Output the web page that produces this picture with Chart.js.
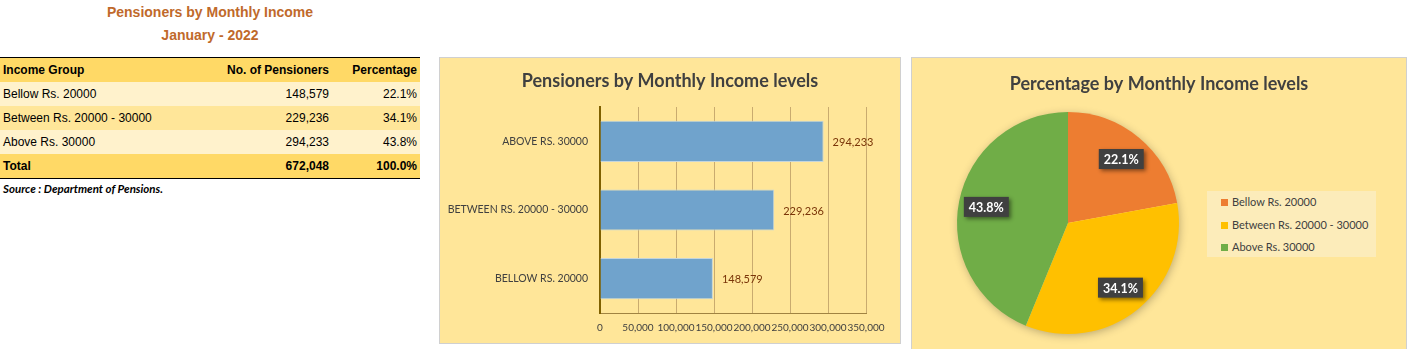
<!DOCTYPE html>
<html>
<head>
<meta charset="utf-8">
<title>Pensioners by Monthly Income</title>
<script src="https://cdn.jsdelivr.net/npm/chart.js@4.4.1/dist/chart.umd.min.js"></script>
<style>
    body { margin: 0; background: #fff; width: 1411px; height: 349px; position: relative; overflow: hidden;
           font-family: "Liberation Sans", Arial, sans-serif; }
    .heading { position: absolute; left: 0; width: 420px; text-align: center; color: #c0692b;
               font-weight: bold; font-size: 14px; line-height: 16px; }
    #incomeTable { position: absolute; left: 0; top: 57px; width: 420px; border-collapse: collapse;
                   font-size: 12px; color: #000; table-layout: fixed; }
    #incomeTable td { height: 24px; padding: 0 3px; white-space: nowrap; }
    #incomeTable tr:first-child td { border-top: 1px solid #000; }
    #incomeTable tr:last-child td { border-bottom: 1px solid #000; }
    #incomeTable .num { text-align: right; }
    .row-head, .row-total { background: #ffd966; font-weight: bold; }
    .row-light { background: #fff2cc; }
    .row-mid { background: #ffe699; }
    .source { position: absolute; left: 3px; top: 182px; font-family: Lato, sans-serif; font-size: 11.5px;
              font-weight: bold; font-style: italic; color: #000; }
    .panel { position: absolute; box-sizing: border-box; border: 1px solid #d0d0d0; background: #ffe699; }
    .panel canvas { display: block; }
    #pieLegend { position: absolute; left: 295px; top: 133px; width: 169px; height: 66px; background: #fcecba;
                 font-family: Lato, sans-serif; font-size: 11px; color: #404040; box-sizing: border-box; }
    #pieLegend .item { height: 22.5px; line-height: 22.5px; padding-left: 14px; }
    #pieLegend .swatch { display: inline-block; width: 7px; height: 7px; margin-right: 4px; vertical-align: 0; }
</style>
</head>
<body>

<div class="heading" style="top:4px">Pensioners by Monthly Income</div>
<div class="heading" style="top:27px">January - 2022</div>

<table id="incomeTable">
    <colgroup><col style="width:200px"><col style="width:132px"><col style="width:88px"></colgroup>
    <tbody id="tableBody"></tbody>
</table>
<div class="source">Source : Department of Pensions.</div>

<div class="panel" style="left:439px; top:57px; width:462px; height:287px">
    <canvas id="barChart" width="460" height="285"></canvas>
</div>

<div class="panel" style="left:911px; top:57px; width:496px; height:295px">
    <canvas id="pieChart" width="494" height="293"></canvas>
    <div id="pieLegend"></div>
</div>

<script>
const categories = ['Bellow Rs. 20000', 'Between Rs. 20000 - 30000', 'Above Rs. 30000'];
const pensioners = [148579, 229236, 294233];
const percentages = [22.1, 34.1, 43.8];
const sliceColors = ['#ed7d31', '#ffc000', '#70ad47'];
const xTickMax = 350000;
const xTickStep = 50000;

const FONT = 'Lato, "Open Sans", sans-serif';

function formatNumber(n) {
    return n.toLocaleString('en-US');
}

function buildTable() {
    const total = pensioners.reduce((a, b) => a + b, 0);
    const rowClass = ['row-light', 'row-mid', 'row-light'];
    let html = '<tr class="row-head"><td>Income Group</td><td class="num">No. of Pensioners</td><td class="num">Percentage</td></tr>';
    html += categories.map((cat, i) => `
        <tr class="${rowClass[i % 3]}">
            <td>${cat}</td>
            <td class="num">${formatNumber(pensioners[i])}</td>
            <td class="num">${percentages[i].toFixed(1)}%</td>
        </tr>`).join('');
    html += `<tr class="row-total"><td>Total</td><td class="num">${formatNumber(total)}</td><td class="num">100.0%</td></tr>`;
    document.getElementById('tableBody').innerHTML = html;
}

// title centred on the whole canvas (the built-in one follows layout padding)
function panelTitle(text, y) {
    return {
        id: 'panelTitle',
        afterDraw(chart) {
            const ctx = chart.ctx;
            ctx.save();
            ctx.font = 'bold 18px ' + FONT;
            ctx.fillStyle = '#404040';
            ctx.textAlign = 'center';
            ctx.textBaseline = 'middle';
            ctx.fillText(text, chart.width / 2, y);
            ctx.restore();
        }
    };
}

// value labels at the end of each bar
const barLabels = {
    id: 'barLabels',
    afterDatasetsDraw(chart) {
        const ctx = chart.ctx;
        ctx.save();
        ctx.font = '11px ' + FONT;
        ctx.fillStyle = '#7a3508';
        ctx.textBaseline = 'middle';
        chart.getDatasetMeta(0).data.forEach((bar, i) => {
            ctx.fillText(formatNumber(pensioners[i]), bar.x + 9, bar.y + 1);
        });
        ctx.restore();
    }
};

// soft shadow under the pie
const pieShadow = {
    id: 'pieShadow',
    beforeDatasetsDraw(chart) {
        const arc = chart.getDatasetMeta(0).data[0];
        if (!arc) return;
        const ctx = chart.ctx;
        ctx.save();
        ctx.shadowColor = 'rgba(0,0,0,0.3)';
        ctx.shadowBlur = 10;
        ctx.shadowOffsetX = 1;
        ctx.shadowOffsetY = 2;
        ctx.fillStyle = '#ffe699';
        ctx.beginPath();
        ctx.arc(arc.x, arc.y, arc.outerRadius - 1, 0, Math.PI * 2);
        ctx.fill();
        ctx.restore();
    }
};

// dark callout boxes with the percentage
const pieLabels = {
    id: 'pieLabels',
    afterDatasetsDraw(chart) {
        const ctx = chart.ctx;
        ctx.save();
        ctx.font = 'bold 12.5px ' + FONT;
        ctx.textAlign = 'center';
        ctx.textBaseline = 'middle';
        chart.getDatasetMeta(0).data.forEach((arc, i) => {
            const mid = (arc.startAngle + arc.endAngle) / 2;
            const r = arc.outerRadius * 0.75;
            const x = arc.x + Math.cos(mid) * r;
            const y = arc.y + Math.sin(mid) * r;
            const text = percentages[i].toFixed(1) + '%';
            const w = ctx.measureText(text).width + 10;
            const h = 20;
            ctx.shadowColor = 'rgba(0,0,0,0.45)';
            ctx.shadowBlur = 4;
            ctx.shadowOffsetX = 2;
            ctx.shadowOffsetY = 2;
            ctx.fillStyle = '#404040';
            ctx.fillRect(x - w / 2, y - h / 2, w, h);
            ctx.shadowColor = 'transparent';
            ctx.fillStyle = '#ffffff';
            ctx.fillText(text, x, y + 1);
        });
        ctx.restore();
    }
};

function drawBarChart() {
    new Chart(document.getElementById('barChart'), {
        type: 'bar',
        data: {
            labels: categories.map(c => c.toUpperCase()),
            datasets: [{
                data: pensioners,
                backgroundColor: '#70a3cc',
                borderColor: '#c4d5dc',
                borderWidth: 1,
                barPercentage: 0.6,
                categoryPercentage: 1
            }]
        },
        options: {
            indexAxis: 'y',
            responsive: false,
            animation: false,
            layout: { padding: { left: 0, right: 34, top: 49, bottom: 8 } },
            plugins: {
                legend: { display: false },
                tooltip: { enabled: false }
            },
            scales: {
                x: {
                    min: 0,
                    max: xTickMax,
                    ticks: {
                        stepSize: xTickStep,
                        color: '#404040',
                        font: { family: FONT, size: 10 },
                        padding: 9,
                        autoSkip: false,
                        maxRotation: 0,
                        minRotation: 0,
                        callback: v => formatNumber(v)
                    },
                    grid: { color: '#c9ab6f', drawTicks: false },
                    border: { color: '#a08341' },
                    afterFit: scale => { scale.height = 22; }
                },
                y: {
                    reverse: true,
                    grid: { display: false, drawTicks: false },
                    border: { color: '#7f6000', width: 2 },
                    ticks: { color: '#404040', font: { family: FONT, size: 10.5 }, padding: 12 },
                    afterFit: scale => { scale.width = 160; }
                }
            }
        },
        plugins: [barLabels, panelTitle('Pensioners by Monthly Income levels', 23)]
    });
}

function drawPieChart() {
    new Chart(document.getElementById('pieChart'), {
        type: 'pie',
        data: {
            labels: categories,
            datasets: [{
                data: percentages,
                backgroundColor: sliceColors,
                borderWidth: 0,
                offset: 0,
                hoverOffset: 0
            }]
        },
        options: {
            responsive: false,
            animation: false,
            layout: { padding: { left: 45, right: 227, top: 54, bottom: 17 } },
            plugins: {
                legend: { display: false },
                tooltip: { enabled: false }
            }
        },
        plugins: [pieShadow, pieLabels, panelTitle('Percentage by Monthly Income levels', 26)]
    });

    document.getElementById('pieLegend').innerHTML = categories.map((cat, i) => `
        <div class="item"><span class="swatch" style="background:${sliceColors[i]}"></span>${cat}</div>
    `).join('');
}

document.addEventListener('DOMContentLoaded', () => {
    buildTable();
    drawBarChart();
    drawPieChart();
});
</script>
</body>
</html>
